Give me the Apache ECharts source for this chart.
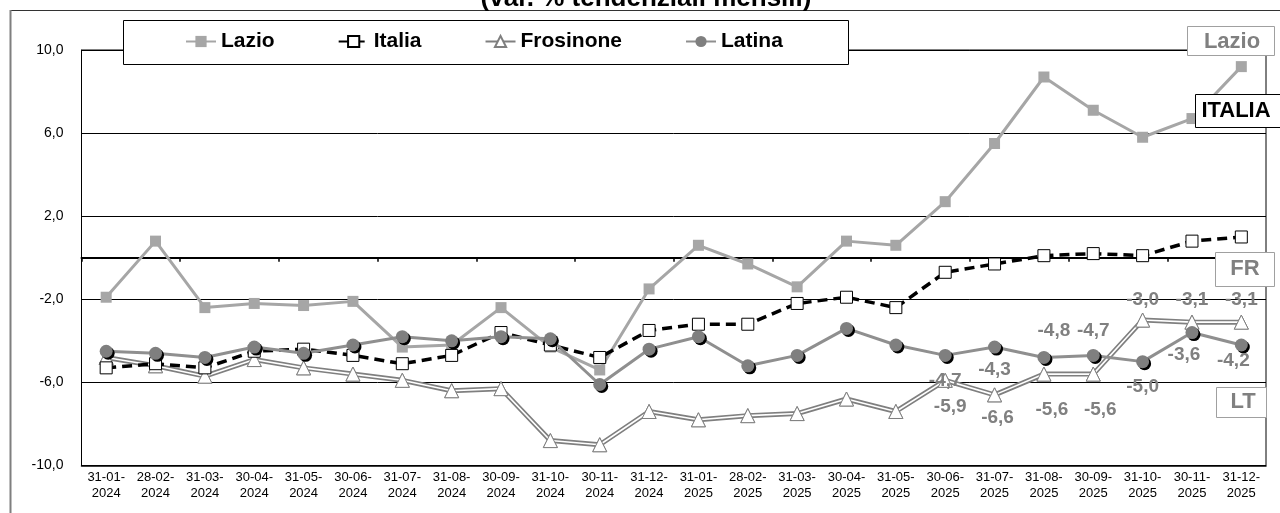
<!DOCTYPE html>
<html>
<head>
<meta charset="utf-8">
<script src="https://cdn.jsdelivr.net/npm/echarts@6/dist/echarts.min.js"></script>
<style>
html,body{margin:0;padding:0;background:#fff;}
#chart{width:1280px;height:513px;}
</style>
</head>
<body>
<div id="chart"></div>
<script>
// ---- data ----
const categories = ['31-01-2024','28-02-2024','31-03-2024','30-04-2024','31-05-2024','30-06-2024','31-07-2024','31-08-2024','30-09-2024','31-10-2024','30-11-2024','31-12-2024','31-01-2025','28-02-2025','31-03-2025','30-04-2025','31-05-2025','30-06-2025','31-07-2025','31-08-2025','30-09-2025','31-10-2025','30-11-2025','31-12-2025'];
const lazio     = [-1.9, 0.8, -2.4, -2.2, -2.3, -2.1, -4.3, -4.2, -2.4, -4.3, -5.4, -1.5, 0.6, -0.3, -1.4, 0.8, 0.6, 2.7, 5.5, 8.7, 7.1, 5.8, 6.7, 9.2];
const italia    = [-5.3, -5.1, -5.3, -4.5, -4.4, -4.7, -5.1, -4.7, -3.6, -4.2, -4.8, -3.5, -3.2, -3.2, -2.2, -1.9, -2.4, -0.7, -0.3, 0.1, 0.2, 0.1, 0.8, 1.0];
const frosinone = [-4.8, -5.2, -5.7, -4.9, -5.3, -5.6, -5.9, -6.4, -6.3, -8.8, -9.0, -7.4, -7.8, -7.6, -7.5, -6.8, -7.4, -5.9, -6.6, -5.6, -5.6, -3.0, -3.1, -3.1];
const latina    = [-4.5, -4.6, -4.8, -4.3, -4.6, -4.2, -3.8, -4.0, -3.8, -3.9, -6.1, -4.4, -3.8, -5.2, -4.7, -3.4, -4.2, -4.7, -4.3, -4.8, -4.7, -5.0, -3.6, -4.2];
const yTicks = {min: -10, max: 10, interval: 4};
const titleText = '(var. % tendenziali mensili)';
const legendNames = ['Lazio', 'Italia', 'Frosinone', 'Latina'];
const sideTags = ['Lazio', 'ITALIA', 'FR', 'LT'];

// ---- styling / layout (not data) ----
const FONT = '"Liberation Sans", Arial, sans-serif';
const labelStart = 17; // first labelled category index
const frOff = [[5,26],[3,23],[8,36],[7,36],[0,-20],[0,-22],[0,-22]];
const ltOff = [[0,25],[0,23],[10,-27],[0,-25],[0,25],[-8,22],[-8,16]];
const fmt = v => v.toFixed(1).replace('.', ',');
const labelStyle = {fontSize: 19, fontWeight: 'bold', color: '#808080', fontFamily: FONT};

function withLabels(values, offs) {
  return values.map((v, i) => {
    if (i < labelStart) return v;
    const o = offs[i - labelStart];
    return {value: v, label: Object.assign({show: true, position: 'inside', offset: o, formatter: p => fmt(p.value)}, labelStyle)};
  });
}

const chart = echarts.init(document.getElementById('chart'), null, {renderer: 'canvas'});

function tag(x, y, w, h, text, stroke, color, tx, ty) {
  return [
    {type: 'rect', z: 20, shape: {x: x + 0.5, y: y + 0.5, width: w, height: h}, style: {fill: '#fff', stroke: stroke, lineWidth: 1}},
    {type: 'text', z: 21, x: tx, y: ty, style: {text: text, fill: color, font: 'bold 22px ' + FONT, align: 'center', verticalAlign: 'middle'}}
  ];
}

const option = {
  animation: false,
  backgroundColor: '#fff',
  grid: {left: 81.5, right: 14, top: 50, bottom: 47.5, show: true, borderColor: '#000', borderWidth: 1, backgroundColor: 'transparent'},
  legend: {
    data: legendNames,
    left: 185, top: 31, padding: 0,
    itemWidth: 30, itemHeight: 14, itemGap: 63,
    selectedMode: false,
    textStyle: {fontSize: 21, fontWeight: 'bold', color: '#000', fontFamily: FONT},
    z: 12
  },
  xAxis: [
    {
      type: 'category', data: categories, position: 'bottom', boundaryGap: true,
      axisLine: {show: true, onZero: false, lineStyle: {color: '#000', width: 1.5}},
      axisTick: {show: false},
      axisLabel: {interval: 0, margin: 4, fontSize: 13, lineHeight: 16, color: '#000', fontFamily: FONT,
        formatter: v => v.slice(0, 6) + '\n' + v.slice(6)},
      splitLine: {show: false}
    },
    {
      type: 'category', data: categories, position: 'top', boundaryGap: true,
      axisLine: {show: true, onZero: true, lineStyle: {color: '#000', width: 2}},
      axisTick: {show: true, inside: true, length: 4, lineStyle: {color: '#000', width: 1.5}},
      axisLabel: {show: false},
      splitLine: {show: false}
    }
  ],
  yAxis: {
    type: 'value', min: yTicks.min, max: yTicks.max, interval: yTicks.interval,
    axisLine: {show: true, lineStyle: {color: '#000', width: 1}},
    axisTick: {show: false},
    axisLabel: {margin: 18, fontSize: 14, color: '#000', fontFamily: FONT, formatter: v => fmt(v)},
    splitLine: {show: true, lineStyle: {color: '#000', width: 1}}
  },
  series: [
    {
      name: 'Lazio', type: 'line', data: lazio, z: 3,
      symbol: 'rect', symbolSize: 11,
      lineStyle: {color: '#a6a6a6', width: 3},
      itemStyle: {color: '#a6a6a6'}
    },
    {
      name: 'Frosinone', type: 'line', data: frosinone, z: 4,
      symbol: 'triangle', symbolSize: 14, showSymbol: true,
      lineStyle: {color: '#7f7f7f', width: 5},
      itemStyle: {color: '#fff', borderColor: '#7f7f7f', borderWidth: 1}
    },
    {
      name: 'FrInner', type: 'line', data: frosinone, z: 5,
      symbol: 'none', silent: true,
      lineStyle: {color: '#fff', width: 1.6}
    },
    {
      name: 'FrMarks', type: 'line', data: withLabels(frosinone, frOff), z: 6,
      symbol: 'triangle', symbolSize: 14, silent: true,
      lineStyle: {width: 0, opacity: 0},
      itemStyle: {color: '#fff', borderColor: '#7f7f7f', borderWidth: 1}
    },
    {
      name: 'Italia', type: 'line', data: italia, z: 7,
      symbol: 'rect', symbolSize: 12,
      lineStyle: {color: '#000', width: 3.5, type: [10, 6]},
      itemStyle: {color: '#fff', borderColor: '#000', borderWidth: 1}
    },
    {
      name: 'Latina', type: 'line', data: withLabels(latina, ltOff), z: 8,
      symbol: 'circle', symbolSize: 13,
      lineStyle: {color: '#8f8f8f', width: 3},
      itemStyle: {color: '#7f7f7f', shadowColor: '#000', shadowBlur: 0, shadowOffsetX: 2, shadowOffsetY: 2}
    }
  ],
  graphic: [
    {type: 'line', z: 1, shape: {x1: 10, y1: 10.5, x2: 1280, y2: 10.5}, style: {stroke: '#333', lineWidth: 1.2}},
    {type: 'line', z: 1, shape: {x1: 10.5, y1: 10, x2: 10.5, y2: 513}, style: {stroke: '#7f7f7f', lineWidth: 2}},
    {type: 'text', z: 2, x: 646, y: -1, style: {text: titleText, fill: '#000', font: 'bold 26px ' + FONT, align: 'center', verticalAlign: 'middle'}},
    {type: 'rect', z: 10, shape: {x: 123.5, y: 20.5, width: 725, height: 44}, style: {fill: '#fff', stroke: '#000', lineWidth: 1}}
  ].concat(
    tag(1187, 26, 87, 29, sideTags[0], '#a0a0a0', '#808080', 1232, 42),
    tag(1195, 94, 95, 33, sideTags[1], '#000', '#000', 1236, 111),
    tag(1215, 252, 59, 34, sideTags[2], '#a0a0a0', '#808080', 1245, 269),
    tag(1216, 387, 50, 30, sideTags[3], '#a0a0a0', '#808080', 1243, 402)
  )
};
chart.setOption(option);
</script>
</body>
</html>
